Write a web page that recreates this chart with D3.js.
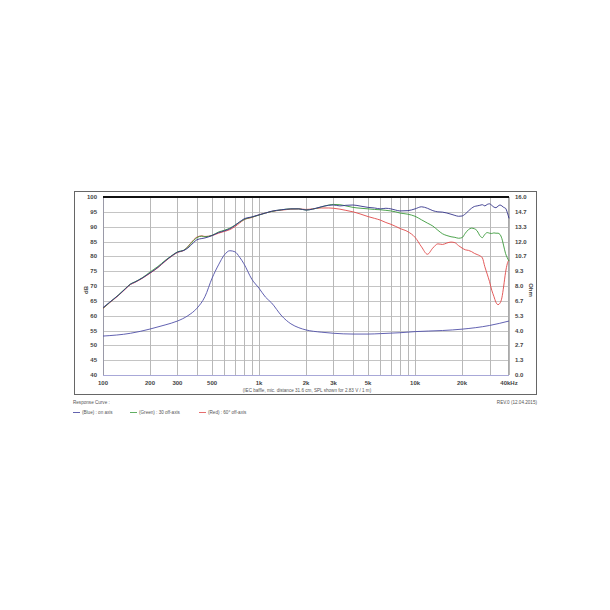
<!DOCTYPE html>
<html><head><meta charset="utf-8">
<script src="https://cdn.jsdelivr.net/npm/d3@7"></script>
<style>html,body{margin:0;padding:0;background:#fff}svg{display:block}</style>
</head><body>
<svg id="c" width="610" height="610"></svg>
<script>
const freqs = [100,110,125,140,150,160,180,200,225,250,280,300,330,350,380,400,430,450,500,550,600,650,700,750,800,900,1000,1100,1200,1400,1600,1800,2000,2200,2500,2800,3000,3300,3600,4000,4500,5000,5500,6000,6500,7000,7500,8000,9000,10000,11000,12000,13000,14000,15000,16000,17000,18000,19000,20000,21000,22000,23000,24000,25000,26000,27000,28000,29000,30000,31000,32000,33000,34000,35000,36000,37000,38000,39000,40000];
const blueOnAxis = [62.7,64.5,66.8,69.2,70.6,71.3,72.8,74.4,76.3,78.4,80.4,81.4,82.0,82.8,84.6,85.6,86.0,86.2,87.0,88.0,88.6,89.3,90.4,91.6,92.6,93.3,94.0,94.6,95.2,95.7,96.0,96.0,95.6,95.9,96.7,97.2,97.3,97.0,97.2,97.3,96.9,96.5,96.3,96.0,96.2,96.0,95.6,95.3,95.4,96.0,96.7,96.2,95.4,95.0,94.9,94.6,94.2,93.8,93.5,93.6,94.3,95.3,96.2,96.8,97.0,97.2,97.4,97.0,97.5,97.7,97.2,96.6,96.4,96.9,97.3,97.0,96.5,96.2,94.8,92.8];
const green30 = [62.5,64.4,66.9,69.3,70.7,71.4,72.9,74.7,76.6,78.6,80.5,81.5,82.1,83.2,85.3,86.3,86.8,86.6,87.1,88.2,88.8,89.5,90.5,91.5,92.4,93.2,93.9,94.6,95.1,95.7,96.0,96.0,95.6,95.9,96.6,97.3,97.5,97.4,97.0,96.5,96.2,96.0,95.8,95.7,95.5,95.3,95.0,94.6,94.2,93.5,92.3,91.2,90.2,88.8,87.6,87.0,86.6,86.4,86.1,86.3,87.8,89.0,89.5,89.3,88.6,87.0,86.3,87.4,88.0,87.8,87.7,87.9,87.8,87.8,87.4,86.0,83.5,81.0,79.5,78.4];
const red60 = [62.4,64.3,66.7,69.1,70.5,71.2,72.7,74.3,76.2,78.3,80.3,81.3,82.0,83.3,85.5,86.5,86.9,86.7,87.0,87.8,88.4,89.0,90.0,91.2,92.3,93.1,94.0,94.6,95.1,95.6,95.9,96.0,95.8,96.0,96.3,96.3,96.2,95.9,95.5,95.0,94.2,93.4,92.8,92.2,91.4,90.8,90.1,89.4,88.3,86.4,83.2,80.7,82.8,84.2,84.0,84.5,84.8,84.6,83.6,82.8,82.2,82.0,81.6,81.0,80.6,80.2,79.5,76.5,74.0,71.5,68.6,66.5,64.5,63.7,64.2,66.0,70.0,74.5,77.5,78.8];
const impFreqs = [100,150,200,250,300,350,400,450,500,550,600,650,700,750,800,900,1000,1100,1200,1400,1600,1800,2000,2500,3000,4000,5000,6000,8000,10000,15000,20000,30000,40000];
const impedanceOhm = [3.5,3.75,4.13,4.5,4.85,5.33,6.0,7.04,8.7,9.9,10.8,11.17,11.08,10.6,10.0,8.6,7.8,7.0,6.5,5.3,4.6,4.25,4.05,3.85,3.75,3.68,3.68,3.72,3.8,3.9,4.0,4.12,4.45,4.85];
const dbTicks = [40,45,50,55,60,65,70,75,80,85,90,95,100];
const ohmTicks = ["0.0","1.3","2.7","4.0","5.3","6.7","8.0","9.3","10.7","12.0","13.3","14.7","16.0"];
const xLabelFreqs = [100,200,300,500,1000,2000,3000,5000,10000,20000,40000];
const xLabelTexts = ["100","200","300","500","1k","2k","3k","5k","10k","20k","40kHz"];
const gridFreqs = [100,200,300,400,500,600,700,800,900,1000,2000,3000,4000,5000,6000,7000,8000,9000,10000,20000,30000,40000];
const caption = "(IEC baffle, mic. distance 31.6 cm, SPL shown for 2.83 V / 1 m)";
const legendItems = [{t:"(Blue) : on axis", c:"#3b3b9a"},{t:"(Green) : 30 off-axis", c:"#3a9a3a"},{t:"(Red) : 60\u00b0 off-axis", c:"#e04848"}];

const svg = d3.select("#c");
const font = "'Liberation Sans', Arial, sans-serif";
const x = d3.scaleLog().domain([100,40000]).range([103,509]);
const y = d3.scaleLinear().domain([40,100]).range([375,197]);
const yO = d3.scaleLinear().domain([0,16]).range([375,197]);

// outer frame
svg.append("rect").attr("x",74.5).attr("y",191.5).attr("width",462).attr("height",203)
  .attr("fill","none").attr("stroke","#666").attr("stroke-width",1);

// grid
const g = svg.append("g");
g.selectAll(".hg").data(dbTicks).join("line")
  .attr("x1",103).attr("x2",509).attr("y1",d=>Math.round(y(d))+0.5).attr("y2",d=>Math.round(y(d))+0.5)
  .attr("stroke","#c4c4c4").attr("stroke-width",1);
g.selectAll(".vg").data(gridFreqs).join("line")
  .attr("x1",d=>Math.round(x(d))+0.5).attr("x2",d=>Math.round(x(d))+0.5).attr("y1",197).attr("y2",375)
  .attr("stroke","#b8b8b8").attr("stroke-width",1);
// axes borders
svg.append("line").attr("x1",103).attr("x2",509).attr("y1",375.5).attr("y2",375.5).attr("stroke","#a8a8d8").attr("stroke-width",1.2);
svg.append("line").attr("x1",103.5).attr("x2",103.5).attr("y1",197).attr("y2",375).attr("stroke","#9a9aa8").attr("stroke-width",1);
svg.append("line").attr("x1",508.5).attr("x2",508.5).attr("y1",197).attr("y2",375).attr("stroke","#aaa").attr("stroke-width",1);
svg.append("line").attr("x1",103).attr("x2",509).attr("y1",197).attr("y2",197).attr("stroke","#111").attr("stroke-width",2);

// tick labels
svg.selectAll(".yl").data(dbTicks).join("text")
  .attr("x",97).attr("y",d=>y(d)+2).attr("text-anchor","end")
  .attr("font-family",font).attr("font-size",6).attr("font-weight","bold").attr("fill","#444").text(d=>d);
svg.selectAll(".yr").data(ohmTicks).join("text")
  .attr("x",515).attr("y",(d,i)=>yO(i*16/12)+2).attr("text-anchor","start")
  .attr("font-family",font).attr("font-size",6).attr("font-weight","bold").attr("fill","#444").text(d=>d);
svg.selectAll(".xl").data(xLabelFreqs).join("text")
  .attr("x",d=>x(d)).attr("y",385).attr("text-anchor","middle")
  .attr("font-family",font).attr("font-size",6).attr("font-weight","bold").attr("fill","#444").text((d,i)=>xLabelTexts[i]);
svg.append("text").attr("transform","translate(88,290) rotate(-90)").attr("text-anchor","middle")
  .attr("font-family",font).attr("font-size",6).attr("font-weight","bold").attr("fill","#444").text("dB");
svg.append("text").attr("transform","translate(529,290) rotate(90)").attr("text-anchor","middle")
  .attr("font-family",font).attr("font-size",6).attr("font-weight","bold").attr("fill","#444").text("Ohm");
svg.append("text").attr("x",307).attr("y",392).attr("text-anchor","middle")
  .attr("font-family",font).attr("font-size",4.6).attr("fill","#555").text(caption);

// curves
const line = d3.line().x(d=>x(d[0])).y(d=>y(d[1])).curve(d3.curveMonotoneX);
const lineO = d3.line().x(d=>x(d[0])).y(d=>yO(d[1])).curve(d3.curveMonotoneX);
const plot = svg.append("g");
plot.append("path").datum(freqs.map((f,i)=>[f,red60[i]])).attr("d",line).attr("fill","none").attr("stroke","#e04848").attr("stroke-width",0.9);
plot.append("path").datum(freqs.map((f,i)=>[f,green30[i]])).attr("d",line).attr("fill","none").attr("stroke","#3a9a3a").attr("stroke-width",0.9);
plot.append("path").datum(freqs.map((f,i)=>[f,blueOnAxis[i]])).attr("d",line).attr("fill","none").attr("stroke","#33338a").attr("stroke-width",0.9);
plot.append("path").datum(impFreqs.map((f,i)=>[f,impedanceOhm[i]])).attr("d",lineO).attr("fill","none").attr("stroke","#5050a8").attr("stroke-width",0.9);

// footer
svg.append("text").attr("x",73).attr("y",404).attr("font-family",font).attr("font-size",4.6).attr("fill","#555").text("Response Curve :");
svg.append("text").attr("x",537).attr("y",404).attr("text-anchor","end").attr("font-family",font).attr("font-size",4.6).attr("fill","#555").text("REV.0 (12.04.2015)");
const legX = [73,130,199];
legendItems.forEach((it,i)=>{
  svg.append("line").attr("x1",legX[i]).attr("x2",legX[i]+7).attr("y1",412.5).attr("y2",412.5).attr("stroke",it.c).attr("stroke-width",0.8);
  svg.append("text").attr("x",legX[i]+9).attr("y",414).attr("font-family",font).attr("font-size",4.6).attr("fill","#555").text(it.t);
});
</script>
</body></html>
